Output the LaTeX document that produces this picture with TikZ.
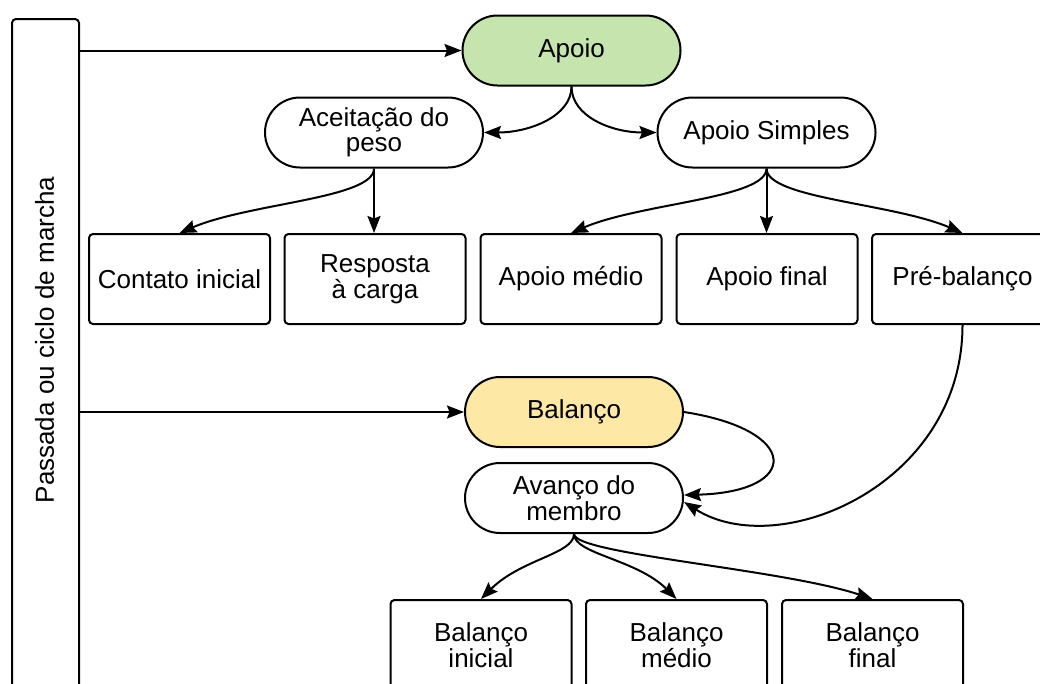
\documentclass[tikz,border=0pt]{standalone}
\usepackage{fontspec}
\setmainfont{Liberation Sans}
\usetikzlibrary{arrows.meta}
\definecolor{apoiogreen}{HTML}{C6E5AE}
\definecolor{balancoyellow}{HTML}{FDE8A6}
\begin{document}
\begin{tikzpicture}[x=1pt,y=1pt,
  line width=2pt,
  every node/.style={font=\fontsize{26}{25.5}\selectfont, align=center, inner sep=0pt},
  phase/.style={draw, rounded corners=35pt, minimum width=218pt, minimum height=70pt},
  stepbox/.style={draw, rounded corners=4pt, minimum width=181pt, minimum height=90pt},
  link/.style={-{Stealth[length=17pt,width=13pt,inset=2.5pt]}, line width=2pt}
]
\clip (0,0) rectangle (1040,-683);

% gait cycle frame on the left
\node[draw, rounded corners=4pt, minimum width=67pt, minimum height=720pt, anchor=north west] (cycle) at (11,-18) {};
\node[rotate=90] (cycletxt) at (44.5,-340) {Passada ou ciclo de marcha};

% stance phase
\node[phase, fill=apoiogreen] (ap) at (571.5,-50.5) {Apoio};
\node[phase] (acc) at (374,-132.5) {Aceitação do\\peso};
\node[phase] (simp) at (766.5,-132.5) {Apoio Simples};
\node[stepbox] (ci) at (179.5,-279) {Contato inicial};
\node[stepbox] (rc) at (375,-279) {Resposta\\à carga};
\node[stepbox] (am) at (571,-279) {Apoio médio};
\node[stepbox] (af) at (767,-279) {Apoio final};
\node[stepbox] (pb) at (962.5,-279) {Pré-balanço};

% swing phase
\node[phase, fill=balancoyellow] (ba) at (574,-412) {Balanço};
\node[phase] (av) at (574,-498) {Avanço do\\membro};
\node[stepbox] (bi) at (481,-645) {Balanço\\inicial};
\node[stepbox] (bm) at (676.5,-645) {Balanço\\médio};
\node[stepbox] (bf) at (872.5,-645) {Balanço\\final};

% connectors
\draw[link] (cycle.east |- ap.west) -- (ap.west);
\draw[link] (cycle.east |- ba.west) -- (ba.west);

\draw[link] (ap.south) .. controls +(0,-30) and +(45,0) .. (acc.east);
\draw[link] (ap.south) .. controls +(0,-30) and +(-45,0) .. (simp.west);

\draw[link] (acc.south) .. controls +(0,-30) and +(70,30) .. (ci.north);
\draw[link] (acc.south) -- (acc.south |- rc.north);

\draw[link] (simp.south) .. controls +(0,-30) and +(70,30) .. (am.north);
\draw[link] (simp.south) -- (simp.south |- af.north);
\draw[link] (simp.south) .. controls +(0,-30) and +(-70,30) .. (pb.north);

\draw[link] (ba.east) .. controls (801,-430) and (801,-492) .. ([yshift=3pt]av.east);
\draw[link] (pb.south) .. controls +(0,-160) and +(95,-60) .. ([yshift=-4pt]av.east);

\draw[link] (av.south) .. controls +(0,-20) and +(40,40) .. (bi.north);
\draw[link] (av.south) .. controls +(0,-20) and +(-40,40) .. (bm.north);
\draw[link] (av.south) .. controls +(0,-20) and +(-90,30) .. (bf.north);
\end{tikzpicture}
\end{document}
